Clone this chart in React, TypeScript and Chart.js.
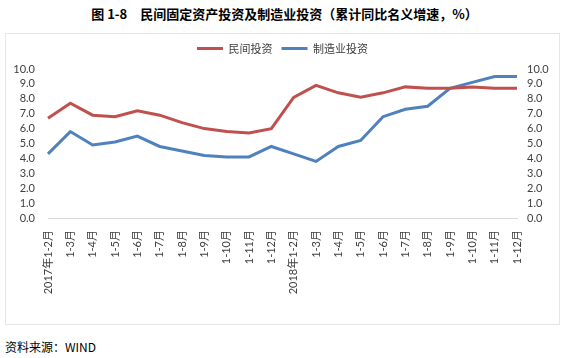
import React, { useEffect, useRef } from "react";
import { Chart, registerables } from "chart.js";

Chart.register(...registerables);

const categories = [
  "2017年1-2月", "1-3月", "1-4月", "1-5月", "1-6月", "1-7月", "1-8月", "1-9月", "1-10月", "1-11月", "1-12月",
  "2018年1-2月", "1-3月", "1-4月", "1-5月", "1-6月", "1-7月", "1-8月", "1-9月", "1-10月", "1-11月", "1-12月",
];
const privateInvest = [6.7, 7.7, 6.9, 6.8, 7.2, 6.9, 6.4, 6.0, 5.8, 5.7, 6.0, 8.1, 8.9, 8.4, 8.1, 8.4, 8.8, 8.7, 8.7, 8.8, 8.7, 8.7];
const manufInvest = [4.3, 5.8, 4.9, 5.1, 5.5, 4.8, 4.5, 4.2, 4.1, 4.1, 4.8, 4.3, 3.8, 4.8, 5.2, 6.8, 7.3, 7.5, 8.7, 9.1, 9.5, 9.5];
const seriesNames = ["民间投资", "制造业投资"];
const titleText = "图 1-8\u3000民间固定资产投资及制造业投资（累计同比名义增速，%）";
const sourceText = "资料来源：WIND";

const numFont = "Lato, 'Noto Sans CJK SC', sans-serif";
const cjkFont = "'Noto Sans CJK SC', sans-serif";

export default function App() {
  const ref = useRef<HTMLCanvasElement | null>(null);
  useEffect(() => {
    if (!ref.current) return;
    const legendPad = {
      id: "legendPad",
      beforeInit(chart: any) {
        const orig = chart.legend.fit;
        chart.legend.fit = function () {
          orig.bind(chart.legend)();
          this.height = 35;
        };
      },
    };
    const yTicks = (pad: number) => ({
      stepSize: 1,
      autoSkip: false,
      padding: pad,
      color: "#404040",
      font: { family: numFont, size: 11 },
      callback: (v: any) => Number(v).toFixed(1),
    });
    const chart = new Chart(ref.current, {
      type: "line",
      data: {
        labels: categories,
        datasets: [
          {
            label: seriesNames[0],
            data: privateInvest,
            borderColor: "#C0504D",
            backgroundColor: "#C0504D",
            borderWidth: 3,
            pointRadius: 0,
            tension: 0,
            yAxisID: "y",
          },
          {
            label: seriesNames[1],
            data: manufInvest,
            borderColor: "#4F81BD",
            backgroundColor: "#4F81BD",
            borderWidth: 3,
            pointRadius: 0,
            tension: 0,
            yAxisID: "y",
          },
        ],
      },
      options: {
        animation: false,
        responsive: false,
        maintainAspectRatio: false,
        layout: { padding: 0 },
        plugins: {
          legend: {
            display: true,
            position: "top",
            labels: {
              usePointStyle: true,
              pointStyle: "line",
              pointStyleWidth: 26,
              padding: 9,
              color: "#404040",
              font: { family: cjkFont, size: 11 },
            },
          },
          tooltip: { enabled: false },
        },
        scales: {
          x: {
            grid: { display: false, drawTicks: false },
            border: { display: true, color: "#D9D9D9", width: 1 },
            ticks: {
              autoSkip: false,
              maxRotation: 90,
              minRotation: 90,
              padding: 12,
              color: "#404040",
              font: { family: numFont, size: 11 },
            },
            afterFit: (s: any) => {
              s.height = 106;
            },
          },
          y: {
            position: "left",
            min: 0,
            max: 10,
            grid: { display: false, drawTicks: false },
            border: { display: false },
            ticks: yTicks(13),
            afterFit: (s: any) => {
              s.width = 42;
            },
          },
          y2: {
            position: "right",
            min: 0,
            max: 10,
            grid: { display: false, drawTicks: false },
            border: { display: false },
            ticks: yTicks(10),
            afterFit: (s: any) => {
              s.width = 42;
            },
          },
        },
      },
      plugins: [legendPad],
    } as any);
    return () => chart.destroy();
  }, []);

  return (
    <div style={{ position: "absolute", left: 0, top: 0, width: 569, height: 358, background: "#fff", overflow: "hidden" }}>
      <div
        style={{
          position: "absolute",
          left: 0,
          top: 6,
          width: 569,
          textAlign: "center",
          fontFamily: cjkFont,
          fontWeight: "bold",
          fontSize: 13,
          lineHeight: "16px",
          color: "#000",
          whiteSpace: "pre",
        }}
      >
        {titleText}
      </div>
      <div
        style={{
          position: "absolute",
          left: 5,
          top: 33,
          width: 555,
          height: 292,
          boxSizing: "border-box",
          border: "1px solid #E6E6E6",
        }}
      >
        <canvas ref={ref} width={553} height={290} style={{ display: "block", width: 553, height: 290 }} />
      </div>
      <div
        style={{
          position: "absolute",
          left: 5,
          top: 339,
          fontFamily: cjkFont,
          fontSize: 12,
          lineHeight: "16px",
          color: "#000",
        }}
      >
        {sourceText}
      </div>
    </div>
  );
}
